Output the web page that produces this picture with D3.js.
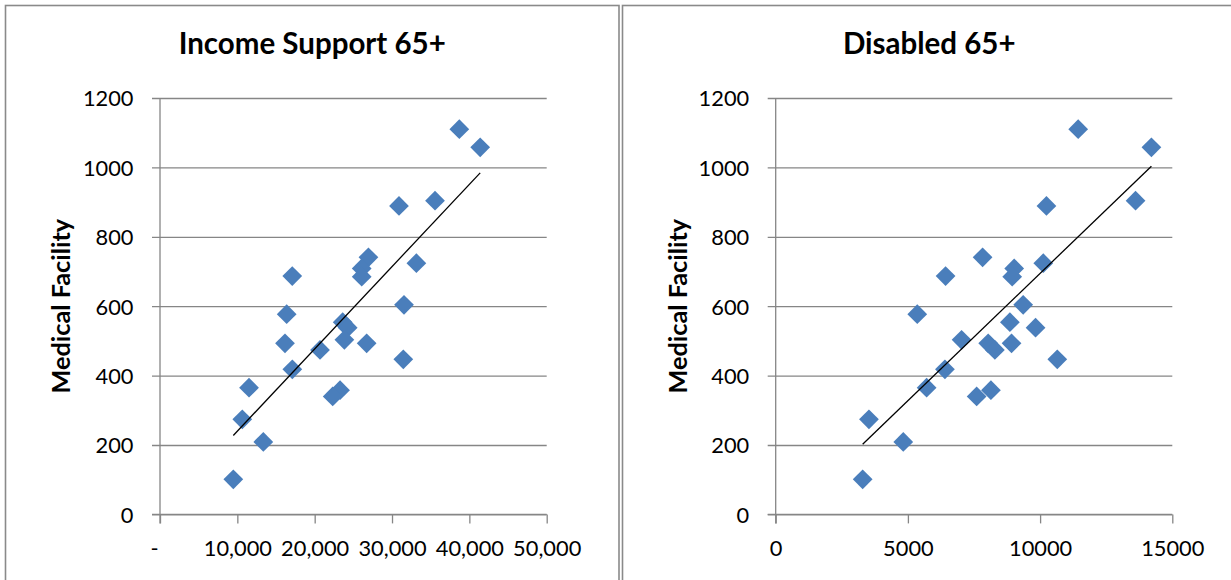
<!DOCTYPE html>
<html>
<head>
<meta charset="utf-8">
<script src="https://cdn.jsdelivr.net/npm/d3@7"></script>
<style>
  html, body { margin: 0; padding: 0; background: #fff; }
  svg { display: block; }
</style>
</head>
<body>
<svg id="chart" width="1231" height="580"></svg>
<script>
// ---- data ----
const medicalFacility = [1110, 1058, 889, 904, 741, 724, 709, 687, 685, 604, 577, 554, 538, 503, 493, 493, 474, 447, 418, 365, 358, 340, 274, 209, 101];
const incomeSupport65 = [38700, 41400, 30900, 35560, 26950, 33150, 26080, 17100, 26080, 31550, 16380, 23620, 24270, 23840, 16160, 26720, 20690, 31460, 17110, 11510, 23280, 22330, 10640, 13360, 9480];
const disabled65 = [11440, 14210, 10240, 13610, 7825, 10120, 9020, 6425, 8945, 9360, 5354, 8857, 9828, 7030, 8037, 8920, 8290, 10650, 6400, 5708, 8140, 7600, 3527, 4825, 3289];

const yTicks = [0, 200, 400, 600, 800, 1000, 1200];
const incomeTicks = [0, 10000, 20000, 30000, 40000, 50000];
const incomeTickLabels = ["-", "10,000", "20,000", "30,000", "40,000", "50,000"];
const disabledTicks = [0, 5000, 10000, 15000];
const disabledTickLabels = ["0", "5000", "10000", "15000"];

const titles = ["Income Support 65+", "Disabled 65+"];
const yTitle = "Medical Facility";

// ---- styles ----
const gridColor = "#868686";
const markerColor = "#4a7ebb";
const tickFont = "Lato, 'Open Sans', sans-serif";

const svg = d3.select("#chart");

function linReg(xs, ys) {
  const n = xs.length;
  const mx = d3.mean(xs), my = d3.mean(ys);
  let sxy = 0, sxx = 0;
  for (let i = 0; i < n; i++) { sxy += (xs[i] - mx) * (ys[i] - my); sxx += (xs[i] - mx) ** 2; }
  const b = sxy / sxx;
  return { b, a: my - b * mx };
}

function panel(cfg) {
  const g = svg.append("g");
  // chart area border
  g.append("rect")
    .attr("x", cfg.boxX).attr("y", 5.5)
    .attr("width", cfg.boxW).attr("height", 600)
    .attr("fill", "#fff")
    .attr("stroke", "#8a8a8a").attr("stroke-width", 1.6);

  const x = d3.scaleLinear().domain(cfg.xDomain).range([cfg.x0, cfg.x1]);
  const y = d3.scaleLinear().domain([0, 1200]).range([514.4, 98]);

  // gridlines + y axis ticks
  const yAxis = d3.axisLeft(y).tickValues(yTicks).tickSize(-(cfg.x1 - cfg.x0) - 8).tickPadding(0).tickFormat(d => d);
  const ya = g.append("g").attr("transform", `translate(${cfg.x0},0)`).call(yAxis);
  ya.select(".domain").remove();
  ya.selectAll(".tick line").attr("x1", -8).attr("x2", cfg.x1 - cfg.x0)
    .attr("stroke", gridColor).attr("stroke-width", 1.3);
  ya.selectAll(".tick text")
    .attr("x", -26.5).attr("dy", "0.36em")
    .attr("font-family", tickFont).attr("font-size", 21.8).attr("fill", "#000");

  // y axis line
  g.append("line").attr("x1", cfg.x0).attr("x2", cfg.x0).attr("y1", y(1200)).attr("y2", y(0) + 9)
    .attr("stroke", gridColor).attr("stroke-width", 1.3);

  // x axis
  const xAxis = d3.axisBottom(x).tickValues(cfg.ticks).tickSize(9).tickPadding(0)
    .tickFormat((d, i) => cfg.tickLabels[i]);
  const xa = g.append("g").attr("transform", `translate(0,${y(0)})`).call(xAxis);
  xa.select(".domain").remove();
  xa.selectAll(".tick line").attr("stroke", gridColor).attr("stroke-width", 1.3);
  xa.selectAll(".tick text")
    .attr("y", 42).attr("dy", 0)
    .attr("dx", (d, i) => (cfg.tickLabels[i] === "-" ? -6 : 0))
    .attr("font-family", tickFont).attr("font-size", 21.8).attr("fill", "#000");
  g.append("line").attr("x1", cfg.x0 - 8).attr("x2", cfg.x1).attr("y1", y(0)).attr("y2", y(0))
    .attr("stroke", gridColor).attr("stroke-width", 1.3);

  // markers
  const sym = d3.symbol(d3.symbolSquare, 195);
  g.append("g").selectAll("path").data(cfg.xs.map((v, i) => [v, medicalFacility[i]]))
    .join("path")
    .attr("d", sym)
    .attr("transform", d => `translate(${x(d[0])},${y(d[1])}) rotate(45)`)
    .attr("fill", markerColor);

  // linear trendline
  const r = linReg(cfg.xs, medicalFacility);
  const ext = d3.extent(cfg.xs);
  g.append("line")
    .attr("x1", x(ext[0])).attr("y1", y(r.a + r.b * ext[0]))
    .attr("x2", x(ext[1])).attr("y2", y(r.a + r.b * ext[1]))
    .attr("stroke", "#000").attr("stroke-width", 1.3);

  // title
  g.append("text").attr("x", cfg.boxX + cfg.boxW / 2).attr("y", 54.3)
    .attr("text-anchor", "middle")
    .attr("font-family", "Lato, sans-serif").attr("font-weight", "bold").attr("font-size", 29.5)
    .text(cfg.title);

  // y axis title
  g.append("text")
    .attr("transform", `translate(${cfg.boxX + 64},${(y(0) + y(1200)) / 2}) rotate(-90)`)
    .attr("text-anchor", "middle")
    .attr("font-family", "Lato, sans-serif").attr("font-weight", "bold").attr("font-size", 25.3)
    .text(yTitle);
}

panel({ boxX: 5.5, boxW: 613.5, x0: 160, x1: 546.7, xDomain: [0, 50000],
        ticks: incomeTicks, tickLabels: incomeTickLabels, xs: incomeSupport65, title: titles[0] });
panel({ boxX: 622.5, boxW: 613.5, x0: 775.7, x1: 1172.3, xDomain: [0, 15000],
        ticks: disabledTicks, tickLabels: disabledTickLabels, xs: disabled65, title: titles[1] });
</script>
</body>
</html>
